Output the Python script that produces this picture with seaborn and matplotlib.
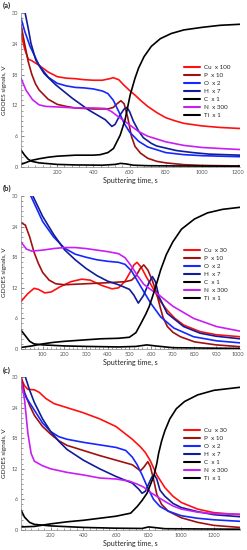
import pandas as pd
import matplotlib.pyplot as plt
from matplotlib.ticker import AutoMinorLocator
import seaborn as sns

# ---- panel (a) ----
a_cu_t = [0, 20, 40, 60, 100, 150, 200, 250, 300, 350, 400, 450, 490, 510, 540, 570, 600, 630, 660, 700, 750, 800, 850, 900, 1000, 1100, 1210]
a_cu = [26.0, 23.0, 21.0, 20.7, 19.8, 18.5, 17.6, 17.3, 17.2, 17.0, 16.9, 16.9, 17.2, 17.4, 17.0, 15.9, 14.9, 14.0, 13.0, 11.8, 10.6, 9.6, 9.0, 8.5, 8.0, 7.7, 7.5]
a_p_t = [0, 20, 40, 60, 80, 100, 150, 200, 250, 300, 400, 480, 510, 530, 552, 570, 590, 610, 630, 660, 700, 750, 800, 900, 1000, 1210]
a_p = [27.7, 24.0, 20.5, 18.0, 16.2, 15.0, 13.2, 12.2, 11.8, 11.5, 11.3, 11.3, 11.6, 12.3, 12.9, 12.3, 9.6, 6.0, 4.0, 2.7, 1.7, 1.1, 0.8, 0.45, 0.3, 0.2]
a_o_t = [0, 20, 50, 100, 150, 200, 250, 300, 350, 400, 450, 480, 510, 540, 570, 600, 650, 700, 800, 900, 1000, 1210]
a_o = [29.0, 26.5, 23.5, 19.8, 17.5, 16.3, 15.8, 15.5, 15.4, 15.2, 14.8, 14.3, 13.0, 10.8, 8.5, 6.8, 5.0, 3.9, 2.8, 2.4, 2.2, 2.0]
a_h_t = [0, 20, 40, 55, 82, 128, 192, 283, 374, 466, 502, 520, 545, 570, 585, 600, 621, 650, 676, 720, 749, 858, 950, 1042, 1210]
a_h = [34.0, 30.5, 27.0, 24.1, 20.8, 18.2, 16.0, 13.4, 11.1, 9.2, 7.9, 8.3, 10.0, 11.3, 11.6, 10.8, 8.9, 7.0, 5.7, 4.6, 4.1, 3.2, 2.8, 2.5, 2.3]
a_c_t = [0, 20, 40, 60, 100, 200, 300, 450, 520, 550, 580, 620, 700, 850, 1210]
a_c = [3.3, 2.3, 1.5, 1.1, 0.8, 0.5, 0.4, 0.35, 0.5, 0.7, 0.6, 0.35, 0.25, 0.2, 0.15]
a_n_t = [0, 27, 64, 100, 137, 200, 300, 400, 466, 500, 537, 570, 600, 650, 700, 800, 900, 1000, 1100, 1210]
a_n = [17.3, 15.0, 13.1, 12.1, 11.8, 11.7, 11.5, 11.5, 11.4, 10.8, 9.8, 9.0, 8.2, 6.9, 6.0, 4.9, 4.2, 3.8, 3.6, 3.4]
a_ti_t = [0, 30, 60, 100, 150, 200, 300, 400, 438, 480, 511, 548, 575, 603, 630, 650, 680, 720, 770, 830, 900, 1000, 1100, 1210]
a_ti = [0.5, 0.9, 1.3, 1.6, 1.9, 2.1, 2.3, 2.3, 2.4, 2.8, 3.6, 6.2, 9.2, 14.0, 17.3, 19.3, 21.5, 23.5, 25.0, 26.0, 26.7, 27.2, 27.6, 27.8]

# ---- panel (b) ----
b_cu_t = [0, 30, 60, 80, 110, 140, 180, 230, 280, 320, 370, 420, 450, 480, 500, 521, 535, 555, 580, 613, 640, 674, 710, 750, 826, 900, 1010]
b_cu = [9.3, 10.8, 11.9, 11.7, 11.0, 11.2, 12.2, 13.2, 13.7, 13.5, 12.5, 11.8, 12.0, 13.3, 14.8, 16.5, 17.0, 16.0, 14.0, 11.6, 9.5, 7.6, 6.0, 4.7, 3.4, 2.8, 2.4]
b_p_t = [0, 20, 40, 60, 80, 100, 130, 160, 200, 300, 400, 480, 510, 530, 550, 566, 585, 605, 625, 640, 655, 675, 700, 735, 800, 900, 1010]
b_p = [24.8, 24.3, 22.0, 19.0, 16.8, 15.0, 13.5, 12.8, 12.6, 12.8, 13.0, 13.2, 13.5, 14.3, 15.8, 16.5, 15.5, 13.5, 11.0, 8.5, 6.2, 4.4, 3.3, 2.4, 1.4, 0.8, 0.45]
b_o_t = [0, 40, 100, 150, 200, 250, 300, 350, 400, 450, 480, 510, 553, 598, 644, 705, 796, 902, 1010]
b_o = [36.0, 30.5, 25.0, 22.0, 19.8, 18.6, 18.0, 17.5, 17.2, 17.0, 16.6, 15.3, 12.2, 9.0, 6.3, 4.1, 2.4, 1.6, 1.2]
b_h_t = [0, 55, 100, 150, 200, 250, 300, 350, 400, 450, 500, 520, 541, 565, 590, 606, 620, 636, 674, 750, 826, 900, 1010]
b_h = [38.0, 30.0, 26.0, 22.5, 19.5, 17.5, 15.8, 14.4, 13.3, 12.6, 11.7, 10.6, 9.0, 10.5, 13.0, 14.2, 13.2, 10.3, 7.0, 4.4, 3.1, 2.5, 2.0]
b_c_t = [0, 20, 40, 60, 100, 200, 300, 450, 530, 580, 620, 700, 1010]
b_c = [3.7, 2.6, 1.5, 1.0, 0.8, 0.6, 0.5, 0.4, 0.5, 0.8, 0.6, 0.25, 0.1]
b_n_t = [0, 25, 50, 100, 150, 200, 250, 300, 350, 400, 450, 480, 510, 540, 566, 600, 636, 700, 796, 902, 1010]
b_n = [21.0, 19.6, 19.2, 19.4, 19.7, 19.9, 19.9, 19.7, 19.4, 19.1, 18.7, 17.9, 16.2, 14.2, 12.7, 11.6, 10.6, 8.4, 6.0, 4.4, 3.5]
b_ti_t = [0, 50, 100, 150, 200, 300, 370, 450, 500, 530, 553, 575, 591, 606, 621, 644, 670, 700, 740, 800, 860, 930, 1010]
b_ti = [0.3, 0.6, 1.0, 1.3, 1.5, 1.8, 2.0, 2.1, 2.3, 3.2, 5.0, 6.8, 8.3, 10.2, 12.2, 15.5, 18.5, 21.0, 23.5, 25.5, 26.7, 27.4, 27.8]

# ---- panel (c) ----
c_cu_t = [18, 40, 60, 100, 130, 170, 220, 300, 400, 500, 600, 700, 750, 780, 810, 850, 900, 950, 1000, 1100, 1200, 1360]
c_cu = [29.8, 28.3, 27.6, 27.5, 27.0, 25.8, 24.8, 24.0, 23.0, 21.8, 20.3, 17.8, 16.3, 15.2, 13.6, 10.8, 8.3, 6.6, 5.4, 4.1, 3.4, 3.0]
c_p_t = [18, 40, 70, 100, 150, 200, 250, 300, 400, 500, 600, 700, 750, 770, 795, 810, 830, 850, 880, 920, 1000, 1100, 1200, 1360]
c_p = [30.3, 27.0, 24.5, 22.5, 20.3, 18.8, 17.5, 16.6, 15.6, 14.6, 13.7, 12.8, 11.6, 12.3, 13.4, 12.5, 10.0, 7.0, 5.0, 3.7, 2.4, 1.5, 0.9, 0.5]
c_o_t = [18, 50, 100, 150, 200, 250, 300, 400, 500, 600, 660, 700, 730, 760, 790, 830, 870, 920, 1000, 1100, 1200, 1360]
c_o = [28.2, 26.0, 23.5, 21.0, 19.3, 18.3, 17.8, 17.2, 16.7, 16.2, 15.6, 14.3, 12.8, 10.8, 8.6, 6.0, 4.6, 3.7, 2.8, 2.3, 2.0, 1.7]
c_h_t = [18, 40, 70, 100, 150, 200, 250, 300, 400, 500, 600, 700, 740, 760, 780, 800, 820, 835, 850, 870, 900, 950, 1000, 1100, 1200, 1360]
c_h = [33.0, 30.5, 27.5, 25.0, 21.8, 19.3, 17.4, 15.8, 13.7, 12.0, 10.5, 9.2, 8.0, 7.2, 7.6, 9.0, 10.4, 10.8, 10.0, 7.8, 6.6, 5.2, 4.4, 3.6, 3.0, 2.6]
c_c_t = [18, 40, 70, 100, 200, 400, 600, 760, 800, 830, 900, 1360]
c_c = [3.9, 2.5, 1.5, 1.1, 0.8, 0.5, 0.35, 0.3, 0.6, 0.5, 0.25, 0.15]
c_n_t = [18, 40, 60, 80, 100, 150, 200, 300, 400, 500, 600, 680, 730, 770, 810, 850, 900, 950, 1000, 1100, 1200, 1360]
c_n = [29.5, 25.5, 19.0, 15.0, 13.5, 12.6, 12.0, 11.3, 10.8, 10.2, 10.0, 9.6, 9.0, 8.4, 7.4, 6.6, 5.6, 4.7, 4.1, 3.5, 3.2, 3.1]
c_ti_t = [18, 100, 200, 300, 400, 500, 600, 690, 730, 760, 790, 810, 831, 850, 861, 880, 900, 930, 970, 1020, 1100, 1200, 1360]
c_ti = [0.6, 0.7, 1.2, 1.6, 1.9, 2.3, 2.7, 3.3, 4.6, 5.8, 7.2, 8.8, 10.5, 13.0, 15.0, 17.5, 19.5, 21.8, 23.8, 25.2, 26.5, 27.4, 28.0]

labels_a = ["Cu  x 100", "P  x 10", "O  x 2", "H  x 7", "C  x 1", "N  x 300", "Ti  x 1"]
labels_bc = ["Cu  x 30", "P  x 10", "O  x 2", "H  x 7", "C  x 1", "N  x 300", "Ti  x 1"]
line_colors = ["#ff1010", "#a01010", "#1428ff", "#101c9a", "#000000", "#c81ef5", "#000000"]

xticks_a = [200, 400, 600, 800, 1000, 1200]
xticks_b = [100, 200, 300, 400, 500, 600, 700, 800, 900, 1000]
xticks_c = [200, 400, 600, 800, 1000, 1200]
yticks = [0, 6, 12, 18, 24, 30]

sns.set_style("ticks")
plt.rcParams['font.family'] = ['Lato', 'DejaVu Sans']


def make_frame(labels, series):
    parts = []
    for lab, (t, v) in zip(labels, series):
        parts.append(pd.DataFrame({'time': t, 'signal': v, 'element': lab}))
    return pd.concat(parts, ignore_index=True)


panels = [
    ("(a)", labels_a, [(a_cu_t, a_cu), (a_p_t, a_p), (a_o_t, a_o), (a_h_t, a_h), (a_c_t, a_c), (a_n_t, a_n), (a_ti_t, a_ti)],
     (0, 1210), xticks_a, "Sputtering time, s", 0.6964, 0.280, 0.662, 5 / 550),
    ("(b)", labels_bc, [(b_cu_t, b_cu), (b_p_t, b_p), (b_o_t, b_o), (b_h_t, b_h), (b_c_t, b_c), (b_n_t, b_n), (b_ti_t, b_ti)],
     (0, 1010), xticks_b, "Sputtering time, s", 0.3655, 0.278, 0.662, 188 / 550),
    ("(c)", labels_bc, [(c_cu_t, c_cu), (c_p_t, c_p), (c_o_t, c_o), (c_h_t, c_h), (c_c_t, c_c), (c_n_t, c_n), (c_ti_t, c_ti)],
     (18, 1360), xticks_c, "Sputtering time, s", 0.0364, 0.278, 0.667, 370 / 550),
]

fig = plt.figure(figsize=(2.47, 5.5), dpi=100)

for tag, labels, series, xlim, xticks, xlab, bottom, height, leg_y, tag_y in panels:
    ax = fig.add_axes([21 / 247, bottom, 219 / 247, height])
    df = make_frame(labels, series)
    sns.lineplot(data=df, x='time', y='signal', hue='element', hue_order=labels,
                 palette=line_colors, sort=False, estimator=None, lw=1.2, ax=ax)
    ax.set_xlim(*xlim)
    ax.set_ylim(0, 30)
    ax.set_xticks(xticks)
    ax.set_yticks(yticks)
    ax.xaxis.set_minor_locator(AutoMinorLocator(5))
    ax.yaxis.set_minor_locator(AutoMinorLocator(6))
    ax.tick_params(which='both', direction='in', labelsize=4, colors='#555555', pad=2)
    ax.tick_params(which='major', length=2.5, width=0.5)
    ax.tick_params(which='minor', length=1.2, width=0.4)
    for s in ['top', 'right']:
        ax.spines[s].set_visible(False)
    for s in ['left', 'bottom']:
        ax.spines[s].set_linewidth(0.5)
        ax.spines[s].set_color('#888888')
    ax.set_xlabel(xlab, fontsize=5, color='#222222', labelpad=1.5)
    ax.set_ylabel("GDOES signals, V", fontsize=4.6, color='#222222', labelpad=2)
    ax.yaxis.set_label_coords(-0.062, 0.5)
    sns.move_legend(ax, loc='upper left', bbox_to_anchor=(0.745, leg_y), title=None,
                    frameon=False, fontsize=4.5, handlelength=2.6, handletextpad=0.6,
                    labelspacing=0.42, borderpad=0, borderaxespad=0)
    for line in ax.get_legend().get_lines():
        line.set_linewidth(1.5)
    fig.text(3 / 247, 1 - tag_y, tag, fontsize=5.5, fontweight='bold', va='center', ha='left')

fig.savefig('out.png', dpi=100)
